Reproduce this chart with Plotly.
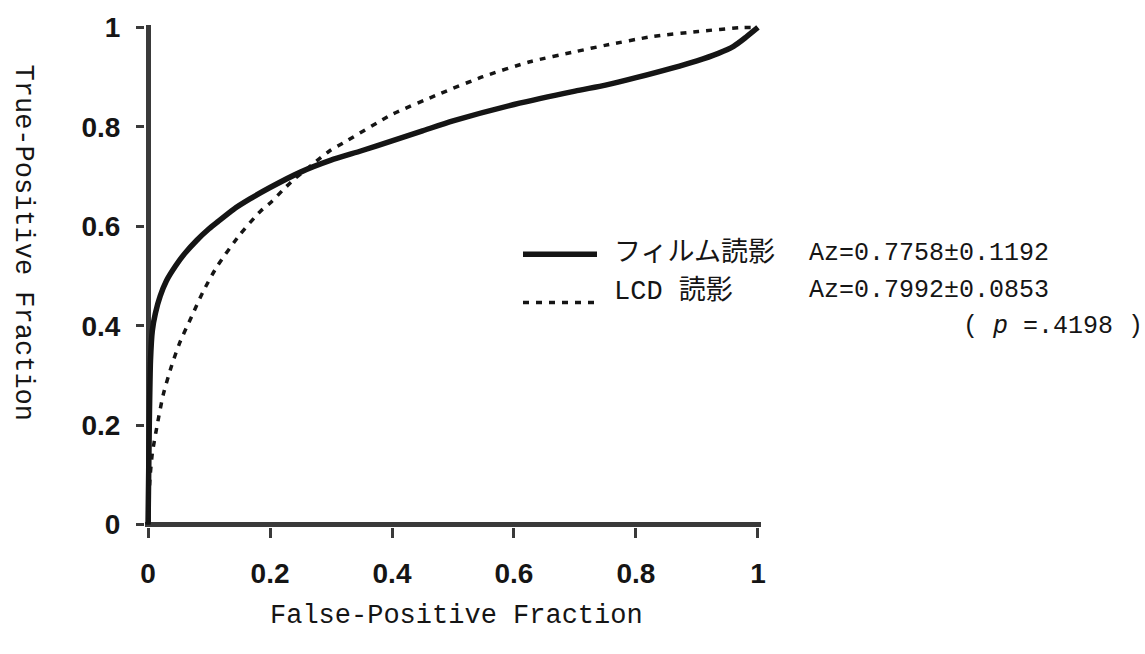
import plotly.graph_objects as go

# ROC operating curves: false-positive fraction vs true-positive fraction
film_fpf = [0, 0.002, 0.004, 0.007, 0.012, 0.02, 0.03, 0.045, 0.06, 0.08, 0.1, 0.113, 0.14,
            0.167, 0.2, 0.25, 0.3, 0.35, 0.4, 0.45, 0.5, 0.6, 0.7, 0.75, 0.8, 0.9, 0.935,
            0.96, 0.98, 1.0]
film_tpf = [0, 0.20, 0.33, 0.39, 0.425, 0.46, 0.49, 0.52, 0.545, 0.572, 0.595, 0.608, 0.634,
            0.655, 0.678, 0.709, 0.733, 0.752, 0.772, 0.792, 0.812, 0.845, 0.872, 0.884,
            0.899, 0.933, 0.948, 0.962, 0.98, 1.0]

lcd_fpf = [0, 0.003, 0.007, 0.015, 0.025, 0.039, 0.052, 0.072, 0.09, 0.113, 0.151, 0.184,
           0.203, 0.221, 0.238, 0.27, 0.298, 0.326, 0.4, 0.479, 0.549, 0.626, 0.703, 0.749,
           0.828, 0.902, 0.975, 1.0]
lcd_tpf = [0, 0.09, 0.143, 0.20, 0.262, 0.321, 0.366, 0.42, 0.468, 0.519, 0.584, 0.63,
           0.65, 0.673, 0.693, 0.725, 0.752, 0.772, 0.825, 0.867, 0.901, 0.931, 0.952, 0.964,
           0.982, 0.992, 1.0, 1.0]

tick_vals = [0, 0.2, 0.4, 0.6, 0.8, 1]
tick_text = ["0", "0.2", "0.4", "0.6", "0.8", "1"]

series_names = ["フィルム読影", "LCD 読影"]
az_labels = ["Az=0.7758±0.1192", "Az=0.7992±0.0853"]
p_label = "( <i>p</i> =.4198 )"
x_title = "False-Positive Fraction"
y_title = "True-Positive Fraction"

FIG_W, FIG_H = 1145, 654
M_L, M_R, M_T, M_B = 145, 384, 17, 127
PLOT_W = FIG_W - M_L - M_R
PLOT_H = FIG_H - M_T - M_B
PAD = 0.005

INK = "#151515"
AXIS = "#3a3a3a"
MONO = "Liberation Mono, Noto Sans CJK JP, monospace"
TITLE_FONT = dict(family=MONO, size=27, color=INK)
NAME_FONT = dict(family=MONO, size=27, color=INK)
STAT_FONT = dict(family=MONO, size=25, color=INK)

SOLID = dict(color=INK, width=5.5)
DASHED = dict(color=INK, width=3.5, dash="6px,7px")


def px(x):
    return (x - M_L) / PLOT_W


def py(y):
    return 1 - (y - M_T) / PLOT_H


fig = go.Figure()
fig.add_trace(go.Scatter(x=film_fpf, y=film_tpf, mode="lines", name=series_names[0],
                         line=dict(**SOLID, shape="spline", smoothing=0.6), showlegend=False))
fig.add_trace(go.Scatter(x=lcd_fpf, y=lcd_tpf, mode="lines", name=series_names[1],
                         line=dict(**DASHED, shape="spline", smoothing=0.6), showlegend=False))

axis_common = dict(
    range=[-PAD, 1 + PAD],
    tickmode="array",
    tickvals=tick_vals,
    ticktext=tick_text,
    showgrid=False,
    showline=False,
    zeroline=True,
    zerolinecolor=AXIS,
    zerolinewidth=5,
    ticks="outside",
    tickcolor=AXIS,
    tickwidth=3,
    tickfont=dict(family="Liberation Sans, Arial, sans-serif", size=28, color=INK, weight="bold"),
    fixedrange=True,
)

fig.update_xaxes(**axis_common, ticklen=10, ticklabelstandoff=11)
fig.update_yaxes(**axis_common, ticklen=8, ticklabelstandoff=10)

# legend keys and labels
legend_rows = [(250, SOLID, 249), (299, DASHED, 287)]
for (key_y, style, text_y), name, az in zip(legend_rows, series_names, az_labels):
    fig.add_shape(type="line", xref="paper", yref="paper",
                  x0=px(523), x1=px(597), y0=py(key_y), y1=py(key_y),
                  line=dict(color=style["color"], width=style["width"], dash=style.get("dash", "solid")))
    fig.add_annotation(xref="paper", yref="paper", x=px(612), y=py(text_y), text=name,
                       showarrow=False, xanchor="left", yanchor="middle", font=NAME_FONT)
    fig.add_annotation(xref="paper", yref="paper", x=px(807), y=py(text_y), text=az,
                       showarrow=False, xanchor="left", yanchor="middle", font=STAT_FONT)

fig.add_annotation(xref="paper", yref="paper", x=px(1145), y=py(323), text=p_label,
                   showarrow=False, xanchor="right", yanchor="middle", font=STAT_FONT)

# axis titles
fig.add_annotation(xref="paper", yref="paper", x=px(456), y=py(617), text=x_title,
                   showarrow=False, xanchor="center", yanchor="middle", font=TITLE_FONT)
fig.add_annotation(xref="paper", yref="paper", x=px(23), y=py(238), text=y_title,
                   showarrow=False, xanchor="center", yanchor="middle", textangle=90,
                   font=TITLE_FONT)

fig.update_layout(
    width=FIG_W,
    height=FIG_H,
    margin=dict(l=M_L, r=M_R, t=M_T, b=M_B),
    paper_bgcolor="white",
    plot_bgcolor="white",
    showlegend=False,
)

fig.write_html("out.html")
